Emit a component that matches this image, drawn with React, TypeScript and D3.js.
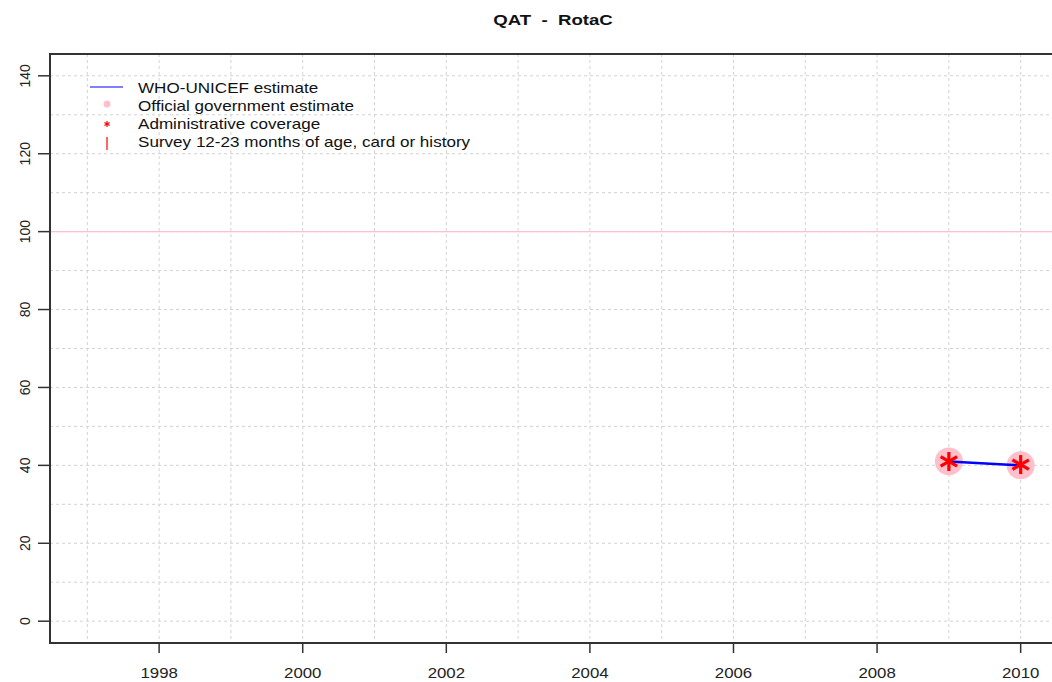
import React from "react";
import * as d3 from "d3";

const years = [2009, 2010];
const wuenic = [41, 40];
const official = [41, 40];
const admin = [41, 40.2];
const xTicks = [1998, 2000, 2002, 2004, 2006, 2008, 2010];
const yTicks = [0, 20, 40, 60, 80, 100, 120, 140];
const xGrid = d3.range(1997, 2011);
const yGrid = d3.range(0, 150, 10);
const legendLabels = [
  "WHO-UNICEF estimate",
  "Official government estimate",
  "Administrative coverage",
  "Survey 12-23 months of age, card or history",
];

const W = 1052;
const H = 682;
const FONT = "'Liberation Sans', Arial, sans-serif";

function drawChart(node: SVGSVGElement) {
  const svg = d3.select(node);
  svg.selectAll("*").remove();
  svg.attr("width", W).attr("height", H);

  const x = d3.scaleLinear().domain([1996.48, 2010.52]).range([50, 1058]);
  const y = d3.scaleLinear().domain([-5.6, 145.6]).range([643, 54]);

  const grid = svg.append("g");
  grid
    .selectAll("line.v")
    .data(xGrid)
    .join("line")
    .attr("x1", (d) => x(d))
    .attr("x2", (d) => x(d))
    .attr("y1", 54)
    .attr("y2", 643)
    .attr("stroke", "#d3d3d3")
    .attr("stroke-dasharray", "3,3");
  grid
    .selectAll("line.h")
    .data(yGrid)
    .join("line")
    .attr("x1", 50)
    .attr("x2", W)
    .attr("y1", (d) => y(d))
    .attr("y2", (d) => y(d))
    .attr("stroke", "#d3d3d3")
    .attr("stroke-dasharray", "3,3");

  // 100% reference line
  svg
    .append("line")
    .attr("x1", 50)
    .attr("x2", W)
    .attr("y1", y(100))
    .attr("y2", y(100))
    .attr("stroke", "#ffc0cb")
    .attr("stroke-width", 1.2);

  // frame
  svg
    .append("path")
    .attr("d", `M${W},54H50V643H${W}`)
    .attr("fill", "none")
    .attr("stroke", "#333")
    .attr("stroke-width", 2);

  // y axis
  const ya = svg.append("g");
  ya.selectAll("line")
    .data(yTicks)
    .join("line")
    .attr("x1", 38)
    .attr("x2", 50)
    .attr("y1", (d) => y(d))
    .attr("y2", (d) => y(d))
    .attr("stroke", "#333")
    .attr("stroke-width", 1.5);
  ya.selectAll("text")
    .data(yTicks)
    .join("text")
    .attr("transform", (d) => `translate(30,${y(d)}) rotate(-90)`)
    .attr("text-anchor", "middle")
    .attr("font-family", FONT)
    .attr("font-size", 14)
    .attr("fill", "#222")
    .text((d) => d);

  // x axis
  const xa = svg.append("g");
  xa.selectAll("line")
    .data(xTicks)
    .join("line")
    .attr("x1", (d) => x(d))
    .attr("x2", (d) => x(d))
    .attr("y1", 643)
    .attr("y2", 653)
    .attr("stroke", "#333")
    .attr("stroke-width", 1.5);
  xa.selectAll("text")
    .data(xTicks)
    .join("text")
    .attr("transform", (d) => `translate(${x(d)},678) scale(1.2,1)`)
    .attr("text-anchor", "middle")
    .attr("font-family", FONT)
    .attr("font-size", 14)
    .attr("fill", "#222")
    .text((d) => d);

  // title
  svg
    .append("text")
    .attr("transform", "translate(553,25) scale(1.2,1)")
    .attr("text-anchor", "middle")
    .attr("font-family", FONT)
    .attr("font-weight", "bold")
    .attr("font-size", 15.5)
    .attr("fill", "#111")
    .style("white-space", "pre")
    .text("QAT  -  RotaC");

  // official estimates
  svg
    .append("g")
    .selectAll("circle")
    .data(years)
    .join("circle")
    .attr("cx", (d) => x(d))
    .attr("cy", (d, i) => y(official[i]))
    .attr("r", 14)
    .attr("fill", "#ffc0cb");

  // WUENIC line
  const line = d3
    .line<number>()
    .x((d) => x(d))
    .y((d, i) => y(wuenic[i]));
  svg
    .append("path")
    .datum(years)
    .attr("d", line)
    .attr("fill", "none")
    .attr("stroke", "blue")
    .attr("stroke-width", 2.5);

  // admin asterisks
  const star = (g: any, s: number, w: number) => {
    [90, 30, 150].forEach((a) => {
      const r = (a * Math.PI) / 180;
      g.append("line")
        .attr("x1", -s * Math.cos(r))
        .attr("y1", -s * Math.sin(r))
        .attr("x2", s * Math.cos(r))
        .attr("y2", s * Math.sin(r))
        .attr("stroke", "red")
        .attr("stroke-width", w);
    });
  };
  years.forEach((yr, i) => {
    const g = svg.append("g").attr("transform", `translate(${x(yr)},${y(admin[i])})`);
    star(g, 9.5, 3.2);
  });

  // legend
  const lg = svg.append("g");
  lg.append("line")
    .attr("x1", 90)
    .attr("x2", 123)
    .attr("y1", 87)
    .attr("y2", 87)
    .attr("stroke", "blue")
    .attr("stroke-width", 1.2);
  lg.append("circle").attr("cx", 107).attr("cy", 104).attr("r", 3.5).attr("fill", "#ffc0cb");
  star(lg.append("g").attr("transform", "translate(107,124)"), 3, 1.2);
  lg.append("line")
    .attr("x1", 107)
    .attr("x2", 107)
    .attr("y1", 137)
    .attr("y2", 150)
    .attr("stroke", "red")
    .attr("stroke-width", 1.2);
  lg.selectAll("text")
    .data(legendLabels)
    .join("text")
    .attr("transform", (d, i) => `translate(138,${93 + i * 18}) scale(1.22,1)`)
    .attr("font-family", FONT)
    .attr("font-size", 14)
    .attr("fill", "#111")
    .text((d) => d);
}

export default function App() {
  const ref = React.useRef<SVGSVGElement>(null);
  React.useEffect(() => {
    if (ref.current) drawChart(ref.current);
  }, []);
  return (
    <div style={{ position: "absolute", left: 0, top: 0, background: "#fff" }}>
      <svg ref={ref} style={{ display: "block" }} />
    </div>
  );
}
